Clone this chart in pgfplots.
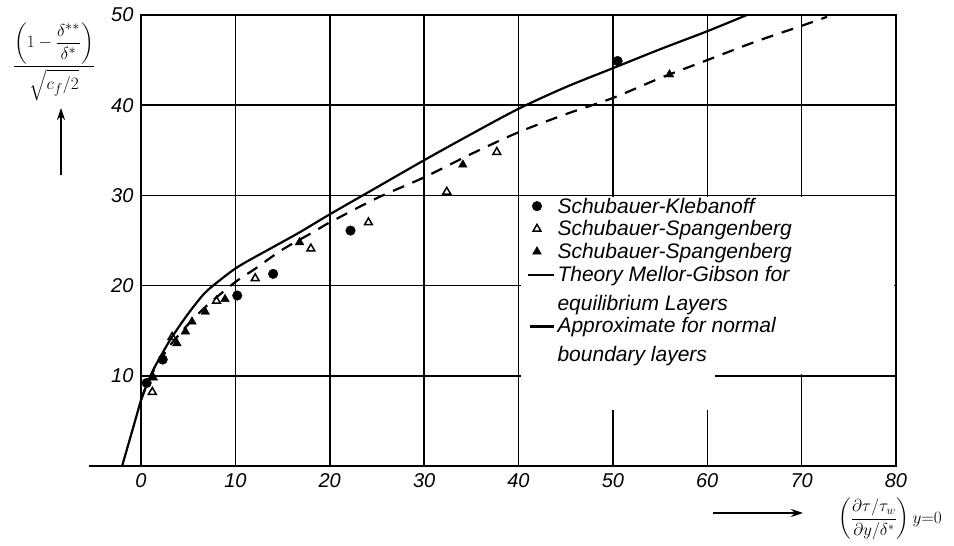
\documentclass[border=0pt]{standalone}
\usepackage{fontspec}
\setmainfont{Liberation Sans}
\usepackage{amsmath}
\usepackage{pgfplots}
\pgfplotsset{compat=1.18}
\usetikzlibrary{arrows.meta}
\begin{document}
\begin{tikzpicture}
\useasboundingbox (0pt,0pt) rectangle (954pt,546pt);
\begin{axis}[
 at={(141pt,80pt)}, anchor=south west,
 scale only axis, width=755pt, height=451pt,
 xmin=0,xmax=80,ymin=0,ymax=50,
 xtick={0,10,...,80}, ytick={10,20,...,50},
 grid=major, grid style={black, line width=1.5pt},
 axis line style={line width=1.6pt},
 major tick length=0pt,
 /pgf/number format/assume math mode=true,
 ticklabel style={font=\fontsize{20}{22}\selectfont\itshape},
 xticklabel style={yshift=-4pt},
 yticklabel style={xshift=-4pt},
 clip=false,
 legend style={at={(axis cs:40.6,30.2)}, anchor=north west, draw=none, fill=none,
   font=\fontsize{21}{29}\selectfont\itshape, align=left, row sep=2pt},
 legend cell align=left,
]
\fill[white] (axis cs:40.3,10.15) rectangle (axis cs:79.8,29.85);
\fill[white] (axis cs:40.3,6.2) rectangle (axis cs:60.8,10.2);
\draw[line width=1.6pt] (axis cs:-5.5,0) -- (axis cs:0,0);
\draw[line width=2.6pt] (axis cs:0,0) -- (axis cs:0,50);

% Schubauer-Klebanoff (filled circles)
\addplot[only marks, mark=*, mark size=4.8pt, black] coordinates {
 (0.6,9.2) (2.3,11.8) (10.2,18.9) (14.0,21.3) (22.2,26.1) (50.5,44.9)};
\addlegendentry{Schubauer-Klebanoff}
% Schubauer-Spangenberg (open triangles)
\addplot[only marks, mark=triangle, mark size=4.5pt, black, line width=1.5pt] coordinates {
 (1.2,8.2) (3.3,14.3) (8.0,18.3) (12.1,20.8) (18.0,24.1) (24.1,27.0) (32.4,30.4) (37.7,34.8)};
\addlegendentry{Schubauer-Spangenberg}
% Schubauer-Spangenberg (filled triangles)
\addplot[only marks, mark=triangle*, mark size=5pt, black] coordinates {
 (1.3,9.8) (3.8,13.6) (4.7,14.9) (5.4,16.0) (6.8,17.1) (8.9,18.5) (16.8,24.8) (34.1,33.4) (56.0,43.4)};
\addlegendentry{Schubauer-Spangenberg}
% Theory Mellor-Gibson
\addplot[black, line width=2.2pt, smooth,
  legend image code/.code={\draw[black, solid, line width=2.2pt] (0pt,14pt) -- (26pt,14pt);}] coordinates {
 (-2,0) (-0.6,5.1) (0,7.3) (0.5,8.7) (1.27,10.6) (2.0,12.0) (3.1,14.0) (4.8,16.6) (6.6,19.0) (8.0,20.3) (10.3,22.1) (13.7,24.1) (16.8,25.9) (20,27.9)
 (25,30.9) (30,33.9) (35,36.8) (40,39.6) (45,42.0) (50,44.1) (55,46.2) (60,48.2) (64.2,50)};
\addlegendentry{Theory Mellor-Gibson for\\equilibrium Layers}
% Approximate
\addplot[black, line width=2.2pt, dash pattern=on 12pt off 9pt, smooth,
  legend image code/.code={\draw[black, solid, line width=2.2pt] (2pt,14pt) -- (26pt,14pt);}] coordinates {
 (0,7.3) (0.6,9.0) (1.3,10.5) (2.2,12.0) (3.1,13.4) (4.9,15.6) (7,17.8) (10,20.4) (12,21.8) (15,24.0) (18.2,25.9) (20,27.0)
 (25,29.7) (30,32.0) (35,34.6) (40,37.0) (45,39.0) (50,40.8) (55,43.0) (60,45.0) (65,47.0) (70,48.8) (72.7,49.8)};
\addlegendentry{Approximate for normal\\boundary layers}
\end{axis}
\node at (54pt,484pt) {\fontsize{19}{23}\selectfont $\dfrac{\left(1-\dfrac{\delta^{**}}{\delta^{*}}\right)}{\sqrt{c_f/2}}$};
\draw[-{Stealth[length=12pt,width=8pt]}, line width=1.5pt] (61pt,371pt) -- (61pt,438pt);
\draw[-{Stealth[length=12pt,width=8pt]}, line width=1.5pt] (713pt,33pt) -- (803pt,33pt);
\node[inner sep=0pt] at (890pt,27pt) {\fontsize{18}{22}\selectfont $\left(\dfrac{\partial\tau/\tau_w}{\partial y/\delta^{*}}\right)y{=}0$};
\end{tikzpicture}
\end{document}
